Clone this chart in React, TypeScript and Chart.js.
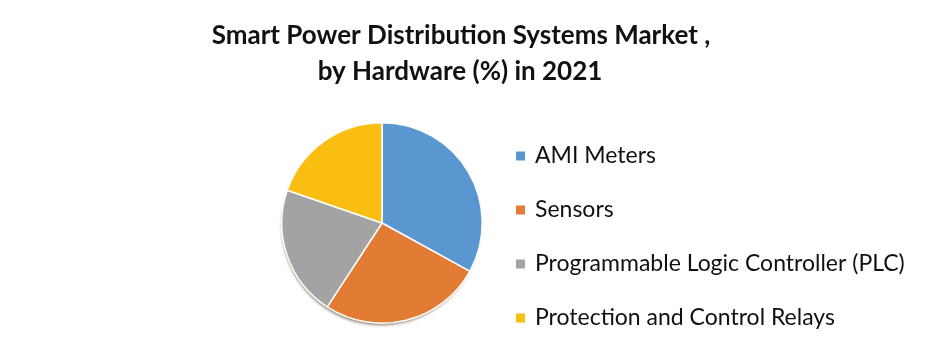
import React, { useEffect, useRef } from "react";
import { Chart, registerables } from "chart.js";

Chart.register(...registerables);

const categories = [
  "AMI Meters",
  "Sensors",
  "Programmable Logic Controller (PLC)",
  "Protection and Control Relays",
];
const shares = [33.0, 26.2, 21.1, 19.7];
const colors = ["#5A97D0", "#E27B34", "#A3A3A3", "#FABD12"];
const titleLines = ["Smart Power Distribution Systems Market ,", "by Hardware (%) in 2021"];

const FONT = "Lato, 'Open Sans', sans-serif";

const shadowPlugin = {
  id: "pieShadow",
  beforeDatasetsDraw(chart: any) {
    const meta = chart.getDatasetMeta(0);
    const arc = meta.data[0];
    if (!arc) return;
    const { x, y, outerRadius } = arc.getProps(["x", "y", "outerRadius"], true);
    const ctx = chart.ctx;
    ctx.save();
    ctx.shadowColor = "rgba(60,30,0,0.55)";
    ctx.shadowBlur = 3;
    ctx.shadowOffsetX = -1;
    ctx.shadowOffsetY = 3;
    ctx.fillStyle = "#7a4a20";
    ctx.beginPath();
    ctx.arc(x, y, outerRadius - 1, 0, Math.PI * 2);
    ctx.fill();
    ctx.restore();
  },
};

const textPlugin = {
  id: "customText",
  afterDraw(chart: any) {
    const ctx = chart.ctx;
    ctx.save();
    ctx.fillStyle = "#111111";
    ctx.textAlign = "center";
    ctx.textBaseline = "middle";
    ctx.font = `bold 26px ${FONT}`;
    ctx.fillText(titleLines[0], 461, 36);
    ctx.fillText(titleLines[1], 460, 72);

    const labels = chart.data.labels as string[];
    const bg = chart.data.datasets[0].backgroundColor as string[];
    ctx.textAlign = "left";
    ctx.font = `23px ${FONT}`;
    labels.forEach((lab, i) => {
      const cy = 156 + i * 54;
      ctx.fillStyle = bg[i];
      ctx.fillRect(516, cy - 4.5, 9, 9);
      ctx.fillStyle = "#111111";
      ctx.fillText(lab, 535, cy);
    });
    ctx.restore();
  },
};

export default function App() {
  const ref = useRef<HTMLCanvasElement>(null);
  useEffect(() => {
    if (!ref.current) return;
    const chart = new Chart(ref.current, {
      type: "pie",
      data: {
        labels: categories,
        datasets: [
          {
            data: shares,
            backgroundColor: colors,
            borderColor: "#ffffff",
            borderWidth: 1.5,
          },
        ],
      },
      options: {
        animation: false,
        responsive: false,
        maintainAspectRatio: false,
        layout: { padding: { left: 281, right: 457, top: 122, bottom: 40 } },
        plugins: {
          legend: { display: false },
          title: { display: false },
          tooltip: { enabled: false },
        },
      },
      plugins: [shadowPlugin, textPlugin],
    });
    return () => chart.destroy();
  }, []);
  return (
    <div style={{ position: "fixed", left: 0, top: 0, width: 940, height: 364, background: "#ffffff" }}>
      <canvas ref={ref} width={940} height={364} style={{ width: 940, height: 364 }} />
    </div>
  );
}
